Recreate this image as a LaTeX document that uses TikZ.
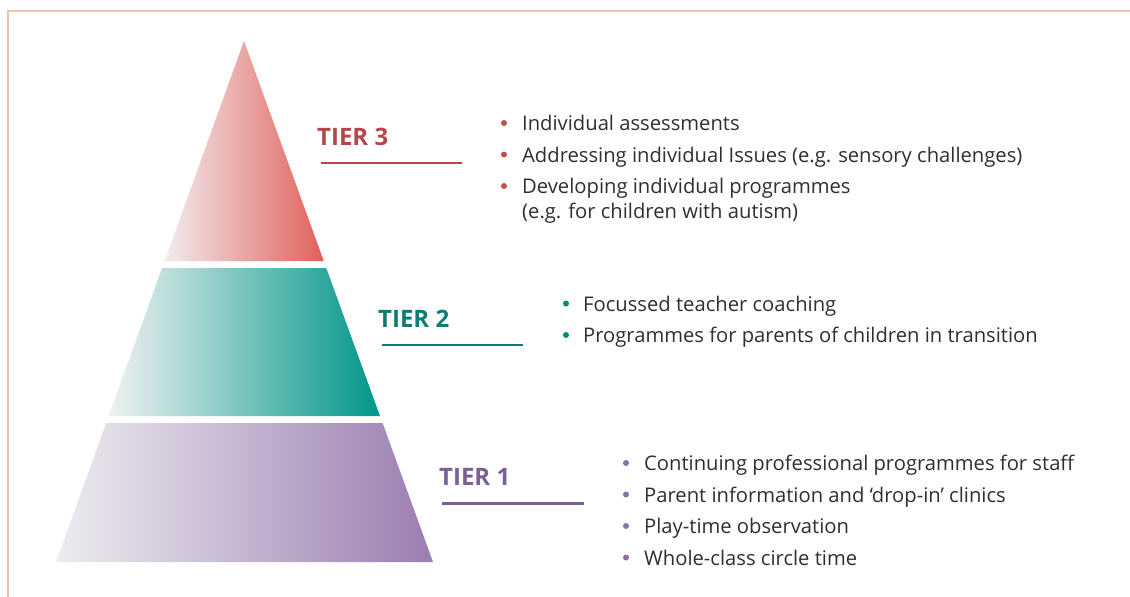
\documentclass[tikz,border=0pt]{standalone}
\usepackage{fontspec}
\setmainfont{Open Sans}
\definecolor{framecol}{HTML}{F4BFA7}
\definecolor{txt}{HTML}{2F2F2F}
\definecolor{tthree}{HTML}{E1605A}
\definecolor{tthreelight}{HTML}{F2ECEE}
\definecolor{tthreetext}{HTML}{B5474A}
\definecolor{tthreedot}{HTML}{C0504D}
\definecolor{ttwo}{HTML}{009688}
\definecolor{ttwolight}{HTML}{EFF1F1}
\definecolor{ttwotext}{HTML}{0B7D72}
\definecolor{ttwodot}{HTML}{00897B}
\definecolor{tone}{HTML}{9A7DB0}
\definecolor{tonelight}{HTML}{EDECF0}
\definecolor{tonetext}{HTML}{7D5E95}
\definecolor{tonedot}{HTML}{8E70A6}
\begin{document}
\begin{tikzpicture}[x=1pt,y=-1pt,
  lbl/.style={anchor=base west, font=\fontsize{24}{28}\selectfont\bfseries, inner sep=0pt},
  item/.style={anchor=base west, font=\fontsize{20.2}{24}\selectfont, text=txt, inner sep=0pt},
  dot/.style={circle, fill=#1, draw=none, inner sep=0pt, minimum size=6pt},
  rulel/.style={line width=2.6pt, #1},
  framel/.style={line width=1.5pt, framecol}
]
\useasboundingbox (0,0) rectangle (1130,597);
% frame
\coordinate (fr1) at (8,597);
\coordinate (fr2) at (8,11);
\coordinate (fr3) at (1130,11);
\draw[framel] (fr1) -- (fr2) -- (fr3);

% pyramid
\shade[left color=tthreelight, right color=tthree]
  (244,41) -- (323.8,261) -- (164.6,261) -- cycle;
\shade[left color=ttwolight, right color=ttwo]
  (162.1,268) -- (326.3,268) -- (380,416) -- (108.7,416) -- cycle;
\shade[left color=tonelight, right color=tone]
  (106.2,423) -- (382.6,423) -- (433,562) -- (56,562) -- cycle;

% tier labels and rules
\node[lbl, text=tthreetext] (tier3) at (317,145) {TIER 3};
\coordinate (r3a) at (320.5,163); \coordinate (r3b) at (462,163);
\draw[rulel=tthreetext] (r3a) -- (r3b);

\node[lbl, text=ttwotext] (tier2) at (378,327.5) {TIER 2};
\coordinate (r2a) at (381.5,345); \coordinate (r2b) at (523,345);
\draw[rulel=ttwotext] (r2a) -- (r2b);

\node[lbl, text=tonetext] (tier1) at (439,485.5) {TIER 1};
\coordinate (r1a) at (442,503.5); \coordinate (r1b) at (583.5,503.5);
\draw[rulel=tonetext] (r1a) -- (r1b);

% tier 3 items
\node[dot=tthreedot] (d31) at (504,123) {};
\node[item] (i31) at (522,130.5) {Individual assessments};
\node[dot=tthreedot] (d32) at (504,154.5) {};
\node[item] (i32) at (522,162) {Addressing individual Issues (e.g. sensory challenges)};
\node[dot=tthreedot] (d33) at (504,186) {};
\node[item] (i33) at (522,193.5) {Developing individual programmes};
\node[item] (i34) at (522,218) {(e.g. for children with autism)};

% tier 2 items
\node[dot=ttwodot] (d21) at (566,303.5) {};
\node[item] (i21) at (583,311) {Focussed teacher coaching};
\node[dot=ttwodot] (d22) at (566,335) {};
\node[item] (i22) at (583,342.5) {Programmes for parents of children in transition};

% tier 1 items
\node[dot=tonedot] (d11) at (626,463) {};
\node[item] (i11) at (644,470.5) {Continuing professional programmes for staff};
\node[dot=tonedot] (d12) at (626,494.5) {};
\node[item] (i12) at (644,502) {Parent information and ‘drop-in’ clinics};
\node[dot=tonedot] (d13) at (626,526) {};
\node[item] (i13) at (644,533.5) {Play-time observation};
\node[dot=tonedot] (d14) at (626,557.5) {};
\node[item] (i14) at (644,565) {Whole-class circle time};
\end{tikzpicture}
\end{document}
